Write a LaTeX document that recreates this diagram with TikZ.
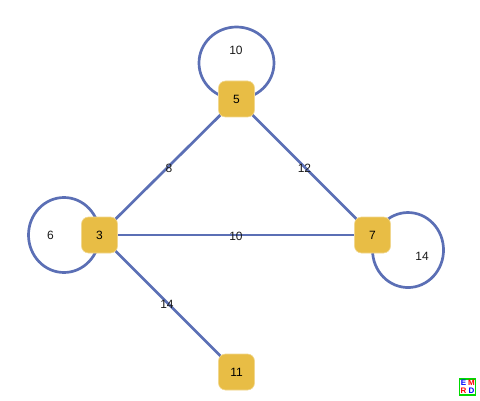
\documentclass[tikz,border=0pt]{standalone}
\usepackage{fontspec}
\setmainfont{Liberation Sans}
\usetikzlibrary{backgrounds}

\begin{document}
\begin{tikzpicture}[
    x=1pt, y=1pt,
    every node/.style={font=\fontsize{12}{14}\selectfont},
    vertex/.style={rectangle, rounded corners=7pt, fill=vertexfill, draw=vertexfill!60!white, line width=0.6pt, minimum size=36pt, inner sep=0pt},
    link/.style={draw=linkblue, line width=2.7pt},
    weight/.style={inner sep=0pt, text=black!90},
    logoletter/.style={font=\fontsize{8}{8}\bfseries\selectfont, inner sep=0pt}
]
\definecolor{vertexfill}{HTML}{E8BD45}
\definecolor{linkblue}{HTML}{5B6FB5}
\useasboundingbox (0,0) rectangle (480,400);

\node[vertex] (five) at (236.5,301) {5};
\node[vertex] (three) at (99.5,165) {3};
\node[vertex] (seven) at (372.5,165) {7};
\node[vertex] (eleven) at (236.5,28) {11};

% links and self loops sit behind the boxes
\begin{scope}[on background layer]
\draw[link] (three.center) -- node[weight, yshift=-1pt, xshift=1pt] {8} (five.center);
\draw[link] (five.center) -- node[weight, yshift=-1pt] {12} (seven.center);
\draw[link] (three.center) -- node[weight, yshift=-1.5pt] {10} (seven.center);
\draw[link] (three.center) -- node[weight, yshift=-1pt, xshift=-1pt] {14} (eleven.center);
\draw[link] (five.center) arc[start angle=-90, delta angle=360, x radius=37.5, y radius=36];
\draw[link] (three.center) arc[start angle=0, delta angle=360, x radius=35.5, y radius=37.5];
\draw[link] ([shift={(12.7,13.7)}]seven.center) arc[start angle=130, delta angle=360, x radius=35.5, y radius=37.5];
\end{scope}

\node[weight] (loopfive) at (236,350) {10};
\node[weight] (loopthree) at (50.5,165) {6};
\node[weight] (loopseven) at (422,144) {14};

% corner mark
\node[draw=green!85!black, line width=1.2pt, minimum size=16pt, inner sep=0pt] (mark) at (467.5,13) {};
\node[logoletter, text=blue] (markE) at (463.5,17) {E};
\node[logoletter, text=red] (markM) at (471.5,17) {M};
\node[logoletter, text=red] (markR) at (463.5,9) {R};
\node[logoletter, text=blue] (markD) at (471.5,9) {D};
\end{tikzpicture}
\end{document}
